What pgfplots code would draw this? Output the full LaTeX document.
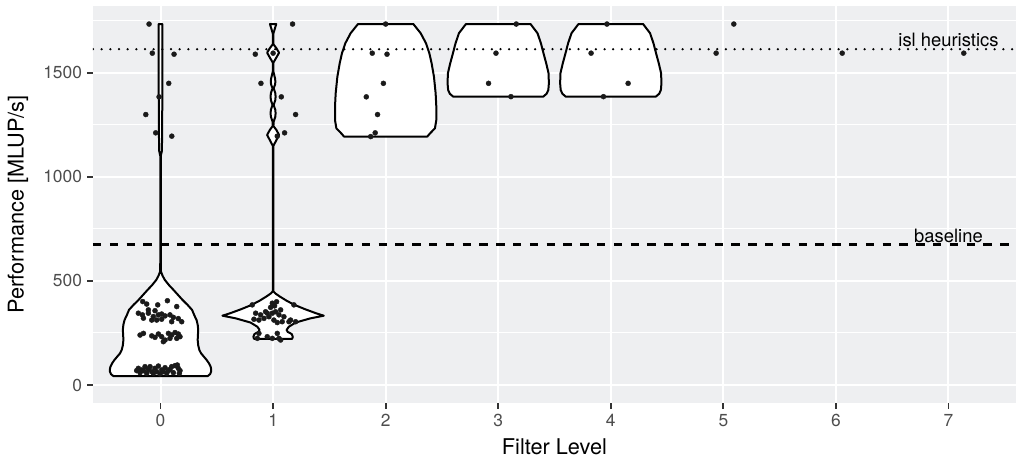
\documentclass[border=0pt]{standalone}
\usepackage{fontspec}
\setmainfont{TeX Gyre Heros}
\usepackage{pgfplots}
\pgfplotsset{compat=1.18}
\definecolor{panelbg}{RGB}{238,239,241}
\definecolor{tickc}{RGB}{51,51,51}
\definecolor{tickl}{RGB}{77,77,77}
\definecolor{ptc}{RGB}{26,26,26}
\begin{document}
\begin{tikzpicture}
\begin{axis}[
  name=ax,
  scale only axis, width=923pt, height=397pt,
  xmin=-0.6, xmax=7.6, ymin=-86.75, ymax=1821.75,
  axis background/.style={fill=panelbg},
  axis line style={draw=none},
  xtick={0,1,2,3,4,5,6,7},
  ytick={0,500,1000,1500},
  minor ytick={250,750,1250,1750},
  grid=both,
  major grid style={white, line width=2pt},
  minor grid style={white, line width=1pt},
  tick align=outside,
  major tick length=5.5pt, minor tick length=0pt,
  tick style={color=tickc, line width=1.8pt},
  minor tick style={draw=none},
  xtick pos=bottom, ytick pos=left,
  /pgf/number format/assume math mode=true,
  /pgf/number format/set thousands separator={},
  ticklabel style={font=\fontsize{17.4}{17.4}\selectfont, text=tickl},
  xticklabel style={anchor=north, yshift=-2pt},
  yticklabel style={anchor=east, xshift=-2pt},
  xlabel={Filter Level}, ylabel={Performance [MLUP/s]},
  every axis x label/.style={at={(rel axis cs:0.5,0)}, anchor=base, yshift=-51pt, font=\fontsize{21.7}{21.7}\selectfont},
  every axis y label/.style={at={(rel axis cs:0,0.5)}, xshift=-75pt, rotate=90, anchor=center, font=\fontsize{21.7}{21.7}\selectfont},
]
% violins
\addplot[fill=white, draw=black, line width=2pt, line join=round] coordinates {
(0.42,43) (0.44,52) (0.45,65) (0.45,75) (0.445,88) (0.43,104) (0.41,120) (0.385,136) (0.36,152) (0.345,168) (0.335,190) (0.33,216) (0.332,240) (0.335,264) (0.33,290) (0.32,312) (0.30,335) (0.28,361) (0.24,385) (0.195,409) (0.155,433) (0.115,457) (0.075,480) (0.038,505) (0.018,525) (0.004,545) (0.002,600) (0.002,1100) (0.012,1125) (0.014,1200) (0.015,1300) (0.016,1385) (0.017,1500) (0.017,1735)
(-0.017,1735) (-0.017,1500) (-0.016,1385) (-0.015,1300) (-0.014,1200) (-0.012,1125) (-0.002,1100) (-0.002,600) (-0.004,545) (-0.018,525) (-0.038,505) (-0.075,480) (-0.115,457) (-0.155,433) (-0.195,409) (-0.24,385) (-0.28,361) (-0.30,335) (-0.32,312) (-0.33,290) (-0.335,264) (-0.332,240) (-0.33,216) (-0.335,190) (-0.345,168) (-0.36,152) (-0.385,136) (-0.41,120) (-0.43,104) (-0.445,88) (-0.45,75) (-0.45,65) (-0.44,52) (-0.42,43)
} -- cycle;
\addplot[fill=white, draw=black, line width=2pt, line join=round] coordinates {
(1.17,222) (1.175,232) (1.165,245) (1.13,255) (1.12,265) (1.14,280) (1.2,300) (1.33,320) (1.45,333) (1.38,345) (1.28,365) (1.19,385) (1.12,405) (1.06,425) (1.02,440) (1.003,450) (1.003,1150) (1.03,1178) (1.053,1202) (1.03,1225) (1.003,1245) (1.005,1266) (1.02,1290) (1.022,1306) (1.02,1322) (1.005,1346) (1.02,1370) (1.022,1386) (1.02,1402) (1.005,1426) (1.018,1445) (1.02,1458) (1.018,1472) (1.003,1506) (1.003,1550) (1.03,1575) (1.053,1597) (1.03,1618) (1.003,1638) (1.003,1690) (1.015,1712) (1.028,1735)
(0.972,1735) (0.985,1712) (0.997,1690) (0.997,1638) (0.97,1618) (0.947,1597) (0.97,1575) (0.997,1550) (0.997,1506) (0.982,1472) (0.98,1458) (0.982,1445) (0.995,1426) (0.98,1402) (0.978,1386) (0.98,1370) (0.995,1346) (0.98,1322) (0.978,1306) (0.98,1290) (0.995,1266) (0.997,1245) (0.97,1225) (0.947,1202) (0.97,1178) (0.997,1150) (0.997,450) (0.98,440) (0.94,425) (0.88,405) (0.81,385) (0.72,365) (0.62,345) (0.55,333) (0.67,320) (0.8,300) (0.86,280) (0.88,265) (0.87,255) (0.835,245) (0.825,232) (0.83,222)
} -- cycle;
\addplot[fill=white, draw=black, line width=2pt, line join=round] coordinates {
(2.37,1194) (2.39,1207) (2.438,1234) (2.45,1274) (2.45,1338) (2.444,1402) (2.429,1482) (2.408,1547) (2.388,1595) (2.358,1643) (2.311,1691) (2.246,1735)
(1.754,1735) (1.689,1691) (1.642,1643) (1.612,1595) (1.592,1547) (1.571,1482) (1.556,1402) (1.55,1338) (1.55,1274) (1.562,1234) (1.61,1207) (1.63,1194)
} -- cycle;
\addplot[fill=white, draw=black, line width=2pt, line join=round] coordinates {
(3.40,1386) (3.43,1400) (3.445,1418) (3.45,1450) (3.447,1499) (3.426,1547) (3.402,1595) (3.379,1643) (3.349,1691) (3.287,1735)
(2.713,1735) (2.651,1691) (2.621,1643) (2.598,1595) (2.574,1547) (2.553,1499) (2.55,1450) (2.555,1418) (2.57,1400) (2.60,1386)
} -- cycle;
\addplot[fill=white, draw=black, line width=2pt, line join=round] coordinates {
(4.40,1386) (4.43,1400) (4.445,1418) (4.45,1450) (4.447,1499) (4.426,1547) (4.402,1595) (4.379,1643) (4.349,1691) (4.287,1735)
(3.713,1735) (3.651,1691) (3.621,1643) (3.598,1595) (3.574,1547) (3.553,1499) (3.55,1450) (3.555,1418) (3.57,1400) (3.60,1386)
} -- cycle;
% reference lines
\addplot[black, line width=2.5pt, dash pattern=on 0pt off 8.67pt, line cap=round] coordinates {(-0.6,1614) (7.6,1614)};
\addplot[black, line width=2.1pt, dash pattern=on 8.4pt off 8.4pt] coordinates {(-0.6,675) (7.6,675)};
% jittered points
\addplot[only marks, mark=*, mark size=2.5pt, color=ptc] coordinates {
(-0.102,1735) (-0.073,1595) (0.12,1590) (0.073,1450) (-0.013,1385) (-0.131,1300) (-0.043,1212) (0.10,1196)
(-0.158,401) (-0.123,389) (-0.025,385) (0.061,405) (0.144,377) (-0.197,345) (-0.161,337) (-0.108,345) (-0.064,329) (-0.019,337) (0.010,341) (0.040,332) (0.084,337) (0.114,325) (0.158,319) (0.188,304) (-0.152,321) (-0.078,312) (-0.034,312) (0.010,316) (0.099,304) (-0.108,361) (-0.049,357)
(-0.182,240) (-0.152,248) (-0.078,236) (-0.049,229) (-0.019,245) (0.010,232) (0.040,216) (0.070,248) (0.099,240) (0.129,252) (0.158,245) (0.173,232) (0.144,224) (0.084,224) (0.025,208)
(-0.197,80) (-0.167,72) (-0.138,88) (-0.108,75) (-0.078,64) (-0.049,80) (-0.019,91) (0.010,72) (0.040,83) (0.070,69) (0.099,88) (0.129,93) (0.158,80) (0.173,69) (-0.182,59) (-0.123,56) (-0.064,56) (-0.004,53) (0.055,56) (0.114,59) (-0.152,69) (-0.093,88) (-0.034,64) (0.025,64) (0.084,75) (0.149,96) (0.167,56) (-0.212,69)
(1.173,1735) (0.842,1590) (1.0,1595) (0.892,1450) (1.073,1385) (1.20,1300) (1.102,1212) (1.037,1196)
(0.815,385) (1.031,400) (0.993,393) (1.013,380) (1.067,361) (0.978,373) (0.933,352) (0.845,345) (0.889,337) (0.948,345) (0.993,345) (1.022,352) (1.052,337) (1.096,328) (1.155,312) (1.20,304) (0.963,328) (0.919,320) (0.83,316) (0.874,312) (1.007,312) (1.081,304) (1.037,300) (1.141,304) (1.185,385) (0.874,248) (0.948,232) (0.86,224) (1.037,248) (1.052,224) (1.067,216) (0.993,224)
(2.0,1735) (1.881,1595) (2.012,1590) (1.98,1450) (1.828,1385) (1.928,1300) (1.907,1212) (1.867,1194)
(3.16,1735) (2.98,1595) (2.914,1450) (3.113,1386)
(3.966,1735) (3.825,1595) (4.154,1450) (3.935,1386)
(5.093,1735) (4.936,1595)
(6.056,1595)
(7.136,1595)
};
\node[anchor=base, yshift=2.5pt, font=\fontsize{18.4}{18.4}\selectfont] at (axis cs:7,1614) {isl heuristics};
\node[anchor=base, yshift=2pt, font=\fontsize{18.4}{18.4}\selectfont] at (axis cs:7,675) {baseline};
\end{axis}
\pgfresetboundingbox
\path[use as bounding box] ([xshift=-93pt,yshift=-55pt]ax.south west) rectangle ([yshift=6pt]ax.north east);
\end{tikzpicture}
\end{document}
